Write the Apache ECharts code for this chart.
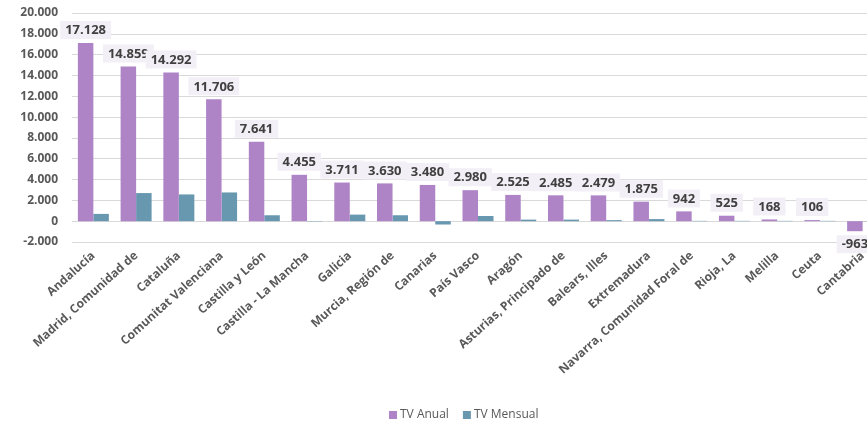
<!DOCTYPE html>
<html>
<head>
<meta charset="utf-8">
<script src="https://cdn.jsdelivr.net/npm/echarts@6/dist/echarts.min.js"></script>
<style>
html,body{margin:0;padding:0;background:#fff;}
#chart{width:867px;height:422px;}
</style>
</head>
<body>
<div id="chart"></div>
<script>
const categories = ["Andalucía","Madrid, Comunidad de","Cataluña","Comunitat Valenciana","Castilla y León","Castilla - La Mancha","Galicia","Murcia, Región de","Canarias","País Vasco","Aragón","Asturias, Principado de","Balears, Illes","Extremadura","Navarra, Comunidad Foral de","Rioja, La","Melilla","Ceuta","Cantabria"];
const tvAnual = [17128,14859,14292,11706,7641,4455,3711,3630,3480,2980,2525,2485,2479,1875,942,525,168,106,-963];
const tvMensual = [700,2700,2570,2760,570,-30,630,570,-320,500,150,150,100,200,30,30,30,30,-20];
const yTicks = {min:-2000, max:20000, interval:2000};
const seriesNames = ["TV Anual","TV Mensual"];

function fmt(v){
  const s = String(Math.abs(v)).replace(/\B(?=(\d{3})+(?!\d))/g,'.');
  return (v<0?'-':'')+s;
}
const FONT = "'Open Sans', 'Noto Sans', sans-serif";
const chart = echarts.init(document.getElementById('chart'), null, {renderer:'canvas'});
chart.setOption({
  animation:false,
  backgroundColor:'#ffffff',
  grid:{left:72, top:13, width:812, height:229, containLabel:false, outerBoundsMode:'none'},
  legend:{
    data:seriesNames, left:384, top:404, itemWidth:8, itemHeight:8, itemGap:14,
    icon:'rect',
    textStyle:{fontFamily:FONT, fontSize:12, color:'#595959', padding:[0,0,0,-2]}
  },
  xAxis:{
    type:'category', data:categories,
    axisLine:{show:false, onZero:false}, axisTick:{show:false},
    axisLabel:{rotate:42, interval:0, margin:12, fontFamily:FONT, fontSize:12, fontWeight:'bold', color:'#595959'}
  },
  yAxis:{
    type:'value', min:yTicks.min, max:yTicks.max, interval:yTicks.interval,
    axisLine:{show:false}, axisTick:{show:false},
    splitLine:{lineStyle:{color:'#d9d9d9', width:1}},
    axisLabel:{margin:14, fontFamily:FONT, fontSize:12, fontWeight:'bold', color:'#595959', formatter:fmt}
  },
  series:[
    {
      name:seriesNames[0], type:'bar', barWidth:15.5, barGap:'0%',
      itemStyle:{color:'#ae84c6'},
      data:tvAnual.map(v=>({value:v, label:{position: v<0?'bottom':'top'}})),
      label:{
        show:true, distance:4, formatter:p=>fmt(p.value),
        fontFamily:FONT, fontSize:13, fontWeight:'bold', color:'#404040',
        backgroundColor:'#f3eff6', padding:[3,5,2,5]
      },
      z:3
    },
    {
      name:seriesNames[1], type:'bar', barWidth:15.5,
      itemStyle:{color:'#6897b0'},
      data:tvMensual,
      z:2
    }
  ]
});
</script>
</body>
</html>
